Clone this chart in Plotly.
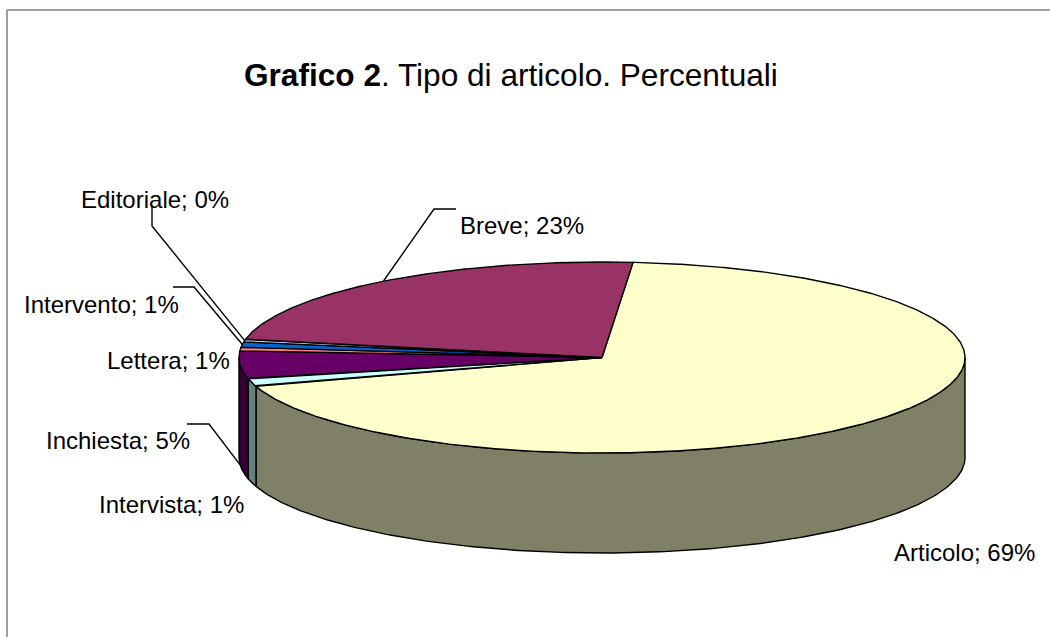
import numpy as np
import plotly.graph_objects as go

# --- data (drawing order clockwise from the Articolo/Breve boundary) ---
categories = ["Articolo", "Intervista", "Inchiesta", "Lettera", "Intervento", "Editoriale", "Breve"]
values = [68.75, 1.3, 4.7, 0.6, 0.9, 0.45, 23.3]
top_colors = ["#FFFFCC", "#CCFFFF", "#660066", "#FF8080", "#0066CC", "#CCCCFF", "#993366"]
side_colors = ["#808066", "#668080", "#330033", "#804040", "#003366", "#666680", "#4D1A33"]

# --- pie geometry, in page pixels ---
CX, CY, RX, RY, DEPTH = 602.0, 357.5, 363.0, 95.5, 100.0
START = 4.9
FONT = "Liberation Sans, Arial, sans-serif"


def rim(angle_deg, drop=0.0):
    a = np.radians(angle_deg)
    return CX + RX * np.sin(a), CY - RY * np.cos(a) + drop


shares = np.array(values) / sum(values) * 360.0
ends = START + np.cumsum(shares)
starts = ends - shares
mids = (starts + ends) / 2

fig = go.Figure()

# side walls: only the part of the rim facing the viewer (90..270 degrees)
for name, s, e, col in zip(categories, starts, ends, side_colors):
    lo, hi = max(s, 90.0), min(e, 270.0)
    if lo >= hi:
        continue
    arc = np.linspace(lo, hi, 240)
    xt, yt = rim(arc)
    xb, yb = rim(arc[::-1], DEPTH)
    fig.add_trace(go.Scatter(
        x=np.r_[xt, xb, xt[0]], y=np.r_[yt, yb, yt[0]], mode="lines", fill="toself",
        fillcolor=col, line=dict(color="black", width=1.4), hoverinfo="text", text=name,
        showlegend=False))

# top faces
for name, v, s, e, col in zip(categories, values, starts, ends, top_colors):
    arc = np.linspace(s, e, max(int(e - s) * 3, 6))
    xt, yt = rim(arc)
    fig.add_trace(go.Scatter(
        x=np.r_[CX, xt, CX], y=np.r_[CY, yt, CY], mode="lines", fill="toself",
        fillcolor=col, line=dict(color="black", width=1.4), hoverinfo="text",
        text=f"{name}; {round(v)}%", showlegend=False))

# data labels: (x, y) of each label's left edge and centre line, in page pixels
label_pos = {
    "Articolo": (892, 552), "Intervista": (97, 504), "Inchiesta": (44, 440),
    "Lettera": (105, 360), "Intervento": (22, 304), "Editoriale": (79, 199), "Breve": (458, 225),
}
# leader lines: from the slice rim through an elbow to the label
leaders = {
    "Breve": (0.0, [(434, 209), (456, 209)]),
    "Editoriale": (0.0, [(152, 226), (152, 205)]),
    "Intervento": (0.0, [(194, 287), (173, 287)]),
    "Inchiesta": (DEPTH, [(209, 424), (187, 424)]),
}
for name, (drop, elbow) in leaders.items():
    i = categories.index(name)
    x0, y0 = rim(mids[i], drop)
    fig.add_trace(go.Scatter(
        x=[x0] + [p[0] for p in elbow], y=[y0] + [p[1] for p in elbow], mode="lines",
        line=dict(color="black", width=1.4), hoverinfo="skip", showlegend=False))

annotations = [
    dict(x=label_pos[c][0], y=label_pos[c][1], xref="x", yref="y", text=f"{c}; {round(v)}%",
         showarrow=False, xanchor="left", yanchor="middle",
         font=dict(family=FONT, size=24, color="black"))
    for c, v in zip(categories, values)
]
annotations.append(dict(
    x=511, y=75, xref="x", yref="y", showarrow=False, xanchor="center", yanchor="middle",
    text="<b>Grafico 2</b>. Tipo di articolo. Percentuali",
    font=dict(family=FONT, size=31.6, color="black")))

frame = dict(color="#808080", width=1.5)
fig.update_layout(
    width=1050, height=637, margin=dict(l=0, r=0, t=0, b=0),
    paper_bgcolor="white", plot_bgcolor="white",
    xaxis=dict(range=[0, 1050], visible=False, fixedrange=True),
    yaxis=dict(range=[637, 0], visible=False, fixedrange=True),
    annotations=annotations,
    shapes=[
        dict(type="line", xref="x", yref="y", x0=7, y0=10, x1=7, y1=637, line=frame),
        dict(type="line", xref="x", yref="y", x0=7, y0=10, x1=1050, y1=10, line=frame),
    ],
)
fig.write_html("out.html", config={"displayModeBar": False},
               post_script="document.body.style.margin='0';document.documentElement.style.overflow='hidden';")
